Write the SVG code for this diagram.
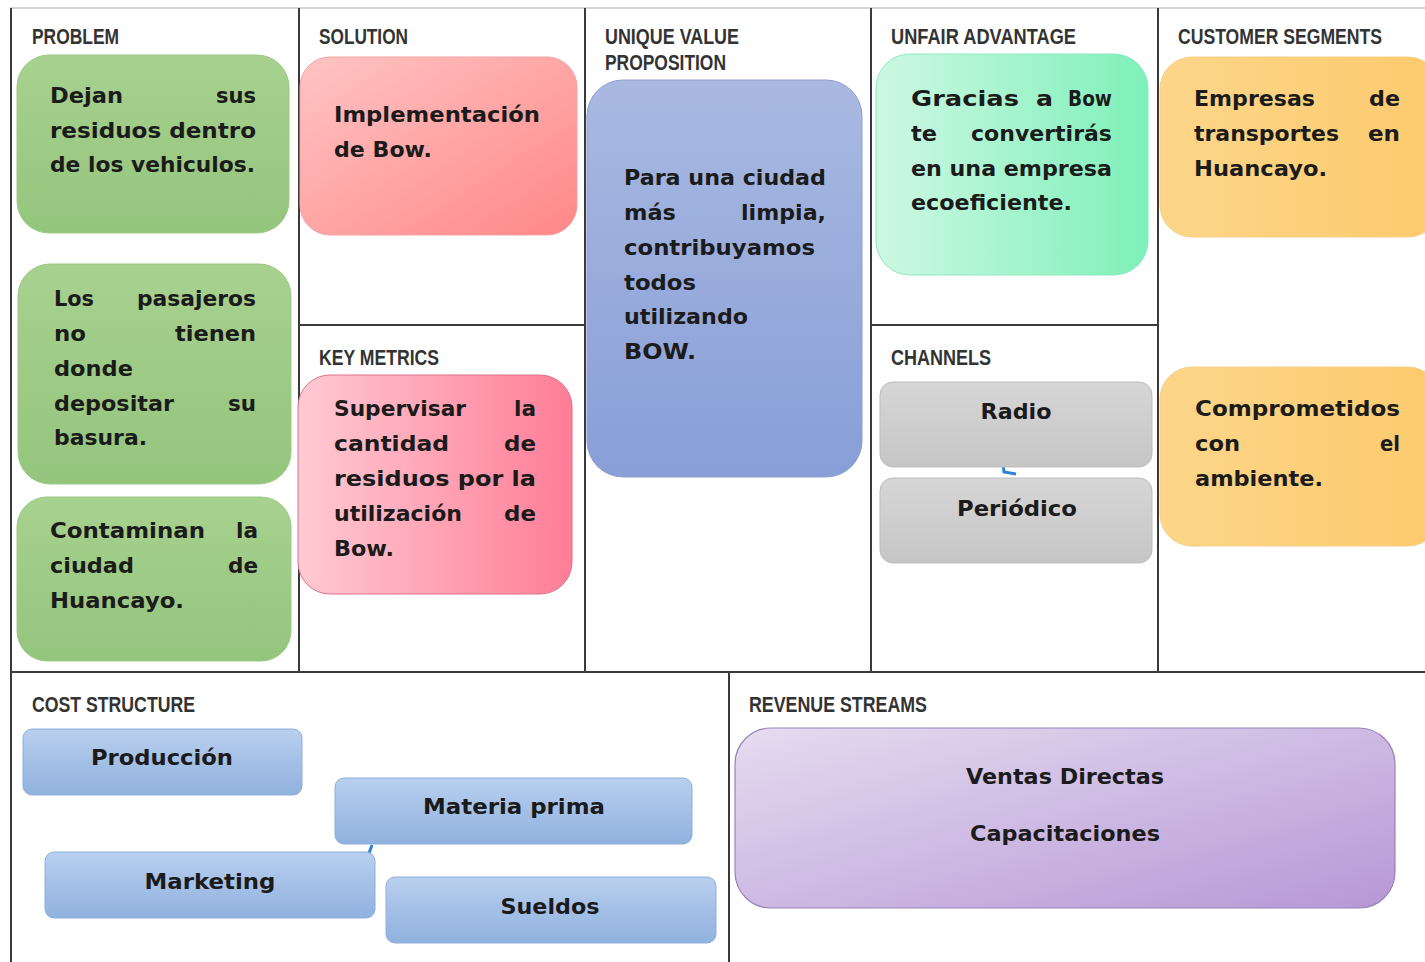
<svg xmlns="http://www.w3.org/2000/svg" width="1425" height="962" viewBox="0 0 1425 962">
<defs>
<linearGradient id="gGreen" x1="0" y1="0" x2="0" y2="1"><stop offset="0" stop-color="#a7d18f"/><stop offset="1" stop-color="#94c57d"/></linearGradient>
<linearGradient id="gSol" x1="0" y1="0" x2="1" y2="1"><stop offset="0" stop-color="#ffc4c4"/><stop offset="1" stop-color="#ff8787"/></linearGradient>
<linearGradient id="gKey" x1="0" y1="0" x2="1" y2="0"><stop offset="0" stop-color="#ffcad3"/><stop offset="1" stop-color="#ff7d97"/></linearGradient>
<linearGradient id="gUvp" x1="0" y1="0" x2="0" y2="1"><stop offset="0" stop-color="#a9b9e1"/><stop offset="1" stop-color="#889ed7"/></linearGradient>
<linearGradient id="gMint" x1="0" y1="0" x2="1" y2="0"><stop offset="0" stop-color="#cdf8e3"/><stop offset="1" stop-color="#7ef0b9"/></linearGradient>
<linearGradient id="gOrange" x1="0" y1="0" x2="1" y2="0"><stop offset="0" stop-color="#fdd68a"/><stop offset="1" stop-color="#fcca6c"/></linearGradient>
<linearGradient id="gGray" x1="0" y1="0" x2="0" y2="1"><stop offset="0" stop-color="#d6d6d6"/><stop offset="1" stop-color="#c6c6c6"/></linearGradient>
<linearGradient id="gBlue" x1="0" y1="0" x2="0" y2="1"><stop offset="0" stop-color="#b9cfee"/><stop offset="1" stop-color="#90b1df"/></linearGradient>
<linearGradient id="gPurple" x1="0" y1="0" x2="1" y2="1"><stop offset="0" stop-color="#e6dcf0"/><stop offset="1" stop-color="#b697d6"/></linearGradient>
</defs>
<style>
.grid{stroke:#3a3a3a;stroke-width:2;fill:none}
.hdr{font-family:"Liberation Sans Narrow","Liberation Sans",Arial,sans-serif;font-weight:bold;font-size:22px;fill:#333}
.t{font-family:"DejaVu Sans",Verdana,sans-serif;font-weight:bold;font-size:21px;fill:#1b1b1b}
.c{text-anchor:middle}
.e{text-anchor:end}
.green{fill:url(#gGreen);stroke:#9ccb86;stroke-width:1}
.blue{fill:url(#gBlue);stroke:#8eaedb;stroke-width:1}
.gray{fill:url(#gGray);stroke:#bdbdbd;stroke-width:1}
.orange{fill:url(#gOrange);stroke:#f5cf86;stroke-width:1}
.conn{stroke:#2b84d8;stroke-width:3;fill:none}
</style>
<rect x="0" y="0" width="1425" height="962" fill="#ffffff"/>
<g id="grid">
<line x1="10" y1="8" x2="1425" y2="8" stroke="#d4d4d4" stroke-width="2"/>
<line class="grid" x1="11" y1="8" x2="11" y2="962"/>
<line class="grid" x1="299" y1="8" x2="299" y2="672"/>
<line class="grid" x1="585" y1="8" x2="585" y2="672"/>
<line class="grid" x1="871" y1="8" x2="871" y2="672"/>
<line class="grid" x1="1158" y1="8" x2="1158" y2="672"/>
<line class="grid" x1="299" y1="325" x2="585" y2="325"/>
<line class="grid" x1="871" y1="325" x2="1158" y2="325"/>
<line class="grid" x1="11" y1="672" x2="1425" y2="672"/>
<line class="grid" x1="729" y1="672" x2="729" y2="962"/>
</g>
<g id="headers">
<text class="hdr" x="32" y="44" textLength="87" lengthAdjust="spacingAndGlyphs">PROBLEM</text>
<text class="hdr" x="319" y="44" textLength="89" lengthAdjust="spacingAndGlyphs">SOLUTION</text>
<text class="hdr" x="605" y="44" textLength="134" lengthAdjust="spacingAndGlyphs">UNIQUE VALUE</text>
<text class="hdr" x="605" y="70" textLength="121" lengthAdjust="spacingAndGlyphs">PROPOSITION</text>
<text class="hdr" x="891" y="44" textLength="185" lengthAdjust="spacingAndGlyphs">UNFAIR ADVANTAGE</text>
<text class="hdr" x="1178" y="44" textLength="204" lengthAdjust="spacingAndGlyphs">CUSTOMER SEGMENTS</text>
<text class="hdr" x="319" y="365" textLength="120" lengthAdjust="spacingAndGlyphs">KEY METRICS</text>
<text class="hdr" x="891" y="365" textLength="100" lengthAdjust="spacingAndGlyphs">CHANNELS</text>
<text class="hdr" x="32" y="712" textLength="163" lengthAdjust="spacingAndGlyphs">COST STRUCTURE</text>
<text class="hdr" x="749" y="712" textLength="178" lengthAdjust="spacingAndGlyphs">REVENUE STREAMS</text>
</g>
<g id="connectors">
<path class="conn" d="M1003,464 L1004,472 L1016,474"/>
<path class="conn" d="M372,845 L368,856"/>
</g>
<g id="problem1">
<rect class="green" x="17" y="55" width="272" height="178" rx="32"/>
<text class="t" x="50" y="103" textLength="73" lengthAdjust="spacingAndGlyphs">Dejan</text>
<text class="t e" x="256" y="103" textLength="40" lengthAdjust="spacingAndGlyphs">sus</text>
<text class="t" x="50" y="138" textLength="206" lengthAdjust="spacingAndGlyphs">residuos dentro</text>
<text class="t" x="50" y="172" textLength="205" lengthAdjust="spacingAndGlyphs">de los vehiculos.</text>
</g>
<g id="problem2">
<rect class="green" x="18" y="264" width="273" height="220" rx="32"/>
<text class="t" x="54" y="306" textLength="40" lengthAdjust="spacingAndGlyphs">Los</text>
<text class="t e" x="256" y="306" textLength="119" lengthAdjust="spacingAndGlyphs">pasajeros</text>
<text class="t" x="54" y="341" textLength="32" lengthAdjust="spacingAndGlyphs">no</text>
<text class="t e" x="256" y="341" textLength="81" lengthAdjust="spacingAndGlyphs">tienen</text>
<text class="t" x="54" y="376" textLength="79" lengthAdjust="spacingAndGlyphs">donde</text>
<text class="t" x="54" y="411" textLength="120" lengthAdjust="spacingAndGlyphs">depositar</text>
<text class="t e" x="256" y="411" textLength="28" lengthAdjust="spacingAndGlyphs">su</text>
<text class="t" x="54" y="445" textLength="93" lengthAdjust="spacingAndGlyphs">basura.</text>
</g>
<g id="problem3">
<rect class="green" x="17" y="497" width="274" height="164" rx="30"/>
<text class="t" x="50" y="538" textLength="155" lengthAdjust="spacingAndGlyphs">Contaminan</text>
<text class="t e" x="258" y="538" textLength="22" lengthAdjust="spacingAndGlyphs">la</text>
<text class="t" x="50" y="573" textLength="84" lengthAdjust="spacingAndGlyphs">ciudad</text>
<text class="t e" x="258" y="573" textLength="30" lengthAdjust="spacingAndGlyphs">de</text>
<text class="t" x="50" y="608" textLength="134" lengthAdjust="spacingAndGlyphs">Huancayo.</text>
</g>
<g id="solution">
<rect x="300" y="57" width="277" height="178" rx="30" fill="url(#gSol)" stroke="#f5a3a3" stroke-width="1"/>
<text class="t" x="334" y="122" textLength="206" lengthAdjust="spacingAndGlyphs">Implementación</text>
<text class="t" x="334" y="157" textLength="98" lengthAdjust="spacingAndGlyphs">de Bow.</text>
</g>
<g id="key-metrics">
<rect x="298" y="375" width="274" height="219" rx="32" fill="url(#gKey)" stroke="#e0708a" stroke-width="1"/>
<text class="t" x="334" y="416" textLength="132" lengthAdjust="spacingAndGlyphs">Supervisar</text>
<text class="t e" x="536" y="416" textLength="22" lengthAdjust="spacingAndGlyphs">la</text>
<text class="t" x="334" y="451" textLength="115" lengthAdjust="spacingAndGlyphs">cantidad</text>
<text class="t e" x="536" y="451" textLength="32" lengthAdjust="spacingAndGlyphs">de</text>
<text class="t" x="334" y="486" textLength="202" lengthAdjust="spacingAndGlyphs">residuos por la</text>
<text class="t" x="334" y="521" textLength="128" lengthAdjust="spacingAndGlyphs">utilización</text>
<text class="t e" x="536" y="521" textLength="32" lengthAdjust="spacingAndGlyphs">de</text>
<text class="t" x="334" y="556" textLength="60" lengthAdjust="spacingAndGlyphs">Bow.</text>
</g>
<g id="uvp">
<rect x="587" y="80" width="275" height="397" rx="36" fill="url(#gUvp)" stroke="#8a9fd3" stroke-width="1"/>
<text class="t" x="624" y="185" textLength="202" lengthAdjust="spacingAndGlyphs">Para una ciudad</text>
<text class="t" x="624" y="220" textLength="52" lengthAdjust="spacingAndGlyphs">más</text>
<text class="t e" x="826" y="220" textLength="85" lengthAdjust="spacingAndGlyphs">limpia,</text>
<text class="t" x="624" y="255" textLength="191" lengthAdjust="spacingAndGlyphs">contribuyamos</text>
<text class="t" x="624" y="290" textLength="72" lengthAdjust="spacingAndGlyphs">todos</text>
<text class="t" x="624" y="324" textLength="124" lengthAdjust="spacingAndGlyphs">utilizando</text>
<text class="t" x="624" y="359" textLength="72" lengthAdjust="spacingAndGlyphs">BOW.</text>
</g>
<g id="unfair-advantage">
<rect x="876" y="54" width="272" height="221" rx="34" fill="url(#gMint)" stroke="#8eeac0" stroke-width="1"/>
<text class="t" x="911" y="106" textLength="108" lengthAdjust="spacingAndGlyphs">Gracias</text>
<text class="t" x="1036" y="106" textLength="17" lengthAdjust="spacingAndGlyphs">a</text>
<text class="t e" x="1112" y="106" textLength="44" lengthAdjust="spacingAndGlyphs">Bow</text>
<text class="t" x="911" y="141" textLength="26" lengthAdjust="spacingAndGlyphs">te</text>
<text class="t e" x="1112" y="141" textLength="141" lengthAdjust="spacingAndGlyphs">convertirás</text>
<text class="t" x="911" y="176" textLength="201" lengthAdjust="spacingAndGlyphs">en una empresa</text>
<text class="t" x="911" y="210" textLength="161" lengthAdjust="spacingAndGlyphs">ecoeficiente.</text>
</g>
<g id="customer1">
<rect class="orange" x="1160" y="57" width="280" height="180" rx="32"/>
<text class="t" x="1194" y="106" textLength="121" lengthAdjust="spacingAndGlyphs">Empresas</text>
<text class="t e" x="1400" y="106" textLength="31" lengthAdjust="spacingAndGlyphs">de</text>
<text class="t" x="1194" y="141" textLength="145" lengthAdjust="spacingAndGlyphs">transportes</text>
<text class="t e" x="1400" y="141" textLength="32" lengthAdjust="spacingAndGlyphs">en</text>
<text class="t" x="1194" y="176" textLength="133" lengthAdjust="spacingAndGlyphs">Huancayo.</text>
</g>
<g id="customer2">
<rect class="orange" x="1160" y="367" width="280" height="179" rx="32"/>
<text class="t" x="1195" y="416" textLength="205" lengthAdjust="spacingAndGlyphs">Comprometidos</text>
<text class="t" x="1195" y="451" textLength="45" lengthAdjust="spacingAndGlyphs">con</text>
<text class="t e" x="1400" y="451" textLength="20" lengthAdjust="spacingAndGlyphs">el</text>
<text class="t" x="1195" y="486" textLength="128" lengthAdjust="spacingAndGlyphs">ambiente.</text>
</g>
<g id="radio">
<rect class="gray" x="880" y="382" width="272" height="85" rx="13"/>
<text class="t c" x="1016" y="419" textLength="71" lengthAdjust="spacingAndGlyphs">Radio</text>
</g>
<g id="periodico">
<rect class="gray" x="880" y="478" width="272" height="85" rx="13"/>
<text class="t c" x="1017" y="516" textLength="120" lengthAdjust="spacingAndGlyphs">Periódico</text>
</g>
<g id="produccion">
<rect class="blue" x="23" y="729" width="279" height="66" rx="9"/>
<text class="t c" x="162" y="765" textLength="142" lengthAdjust="spacingAndGlyphs">Producción</text>
</g>
<g id="materia-prima">
<rect class="blue" x="335" y="778" width="357" height="66" rx="9"/>
<text class="t c" x="514" y="814" textLength="182" lengthAdjust="spacingAndGlyphs">Materia prima</text>
</g>
<g id="marketing">
<rect class="blue" x="45" y="852" width="330" height="66" rx="9"/>
<text class="t c" x="210" y="889" textLength="131" lengthAdjust="spacingAndGlyphs">Marketing</text>
</g>
<g id="sueldos">
<rect class="blue" x="386" y="877" width="330" height="66" rx="9"/>
<text class="t c" x="550" y="914" textLength="99" lengthAdjust="spacingAndGlyphs">Sueldos</text>
</g>
<g id="revenue">
<rect x="735" y="728" width="660" height="180" rx="36" fill="url(#gPurple)" stroke="#9a82b8" stroke-width="1.2"/>
<text class="t c" x="1065" y="784" textLength="198" lengthAdjust="spacingAndGlyphs">Ventas Directas</text>
<text class="t c" x="1065" y="841" textLength="190" lengthAdjust="spacingAndGlyphs">Capacitaciones</text>
</g>
</svg>
